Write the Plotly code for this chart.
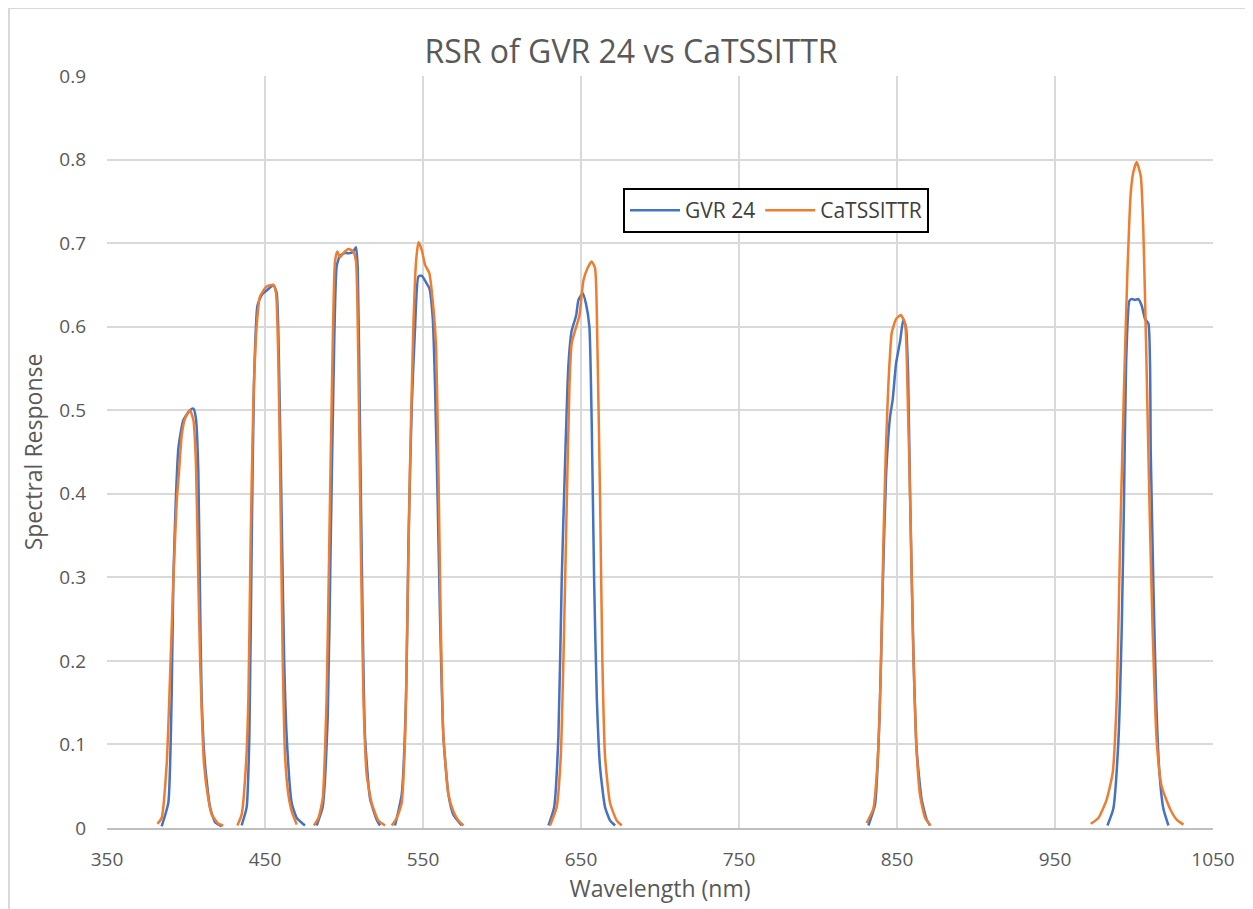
import plotly.graph_objects as go

# ---------------- data ----------------
# GVR 24 bands: wavelengths (nm) and responses
gvr_b1_x = [384.6, 388.8, 390.9, 392.0, 393.5, 395.2, 398.3, 402.5, 404.7, 406.3, 407.8, 408.9, 409.9, 412.0, 415.2, 418.4, 422.6]
gvr_b1_y = [0.002, 0.03, 0.156, 0.297, 0.39, 0.455, 0.488, 0.5, 0.502, 0.49, 0.427, 0.273, 0.156, 0.077, 0.025, 0.007, 0.002]
gvr_b2_x = [435.2, 438.4, 440.1, 441.6, 443.0, 445.2, 447.9, 452.1, 455.3, 457.4, 459.1, 460.6, 462.1, 463.7, 466.9, 470.1, 475.3]
gvr_b2_y = [0.003, 0.025, 0.11, 0.343, 0.53, 0.625, 0.638, 0.645, 0.65, 0.64, 0.53, 0.367, 0.203, 0.11, 0.03, 0.012, 0.003]
gvr_b3_x = [482.7, 486.5, 489.7, 491.6, 493.3, 495.4, 497.5, 500.6, 503.8, 505.9, 507.6, 508.7, 510.1, 511.8, 513.3, 516.5, 520.7, 522.8]
gvr_b3_y = [0.003, 0.025, 0.133, 0.343, 0.53, 0.673, 0.685, 0.688, 0.688, 0.69, 0.695, 0.67, 0.483, 0.25, 0.11, 0.035, 0.01, 0.003]
gvr_b4_x = [532.3, 536.5, 539.3, 540.8, 542.9, 545.0, 547.1, 549.2, 551.3, 554.0, 556.2, 557.6, 559.3, 560.8, 562.9, 566.1, 569.2, 574.5]
gvr_b4_y = [0.003, 0.04, 0.156, 0.343, 0.506, 0.6, 0.66, 0.661, 0.655, 0.646, 0.609, 0.53, 0.39, 0.25, 0.11, 0.04, 0.016, 0.003]
gvr_b5_x = [629.4, 633.0, 635.7, 637.8, 639.9, 642.0, 644.1, 646.9, 648.4, 651.1, 653.2, 655.3, 656.8, 658.3, 660.0, 662.1, 665.2, 668.4, 671.6]
gvr_b5_y = [0.003, 0.025, 0.11, 0.297, 0.436, 0.553, 0.595, 0.613, 0.632, 0.64, 0.627, 0.6, 0.483, 0.297, 0.156, 0.072, 0.025, 0.009, 0.003]
gvr_b6_x = [831.9, 836.1, 838.9, 841.0, 843.1, 845.6, 847.3, 849.4, 852.0, 854.0, 855.7, 857.0, 858.3, 860.4, 862.5, 865.6, 868.8, 870.9]
gvr_b6_y = [0.003, 0.028, 0.13, 0.29, 0.423, 0.492, 0.513, 0.556, 0.583, 0.609, 0.599, 0.545, 0.396, 0.209, 0.092, 0.034, 0.01, 0.003]
gvr_b7_x = [983.2, 986.9, 990.1, 992.2, 993.7, 995.0, 997.1, 998.6, 1000.7, 1002.8, 1004.9, 1007.0, 1009.1, 1010.6, 1012.3, 1014.0, 1016.1, 1018.6, 1021.8]
gvr_b7_y = [0.003, 0.023, 0.103, 0.236, 0.396, 0.556, 0.631, 0.633, 0.632, 0.633, 0.625, 0.609, 0.604, 0.449, 0.289, 0.156, 0.066, 0.023, 0.003]

# CaTSSITTR bands
cat_b1_x = [381.9, 384.6, 387.8, 390.3, 392.0, 394.1, 395.6, 397.3, 399.4, 402.5, 404.7, 406.3, 407.8, 408.9, 411.4, 414.1, 416.3, 420.5, 423.6]
cat_b1_y = [0.005, 0.012, 0.077, 0.203, 0.297, 0.39, 0.427, 0.47, 0.49, 0.5, 0.488, 0.436, 0.297, 0.203, 0.077, 0.035, 0.016, 0.005, 0.003]
cat_b2_x = [432.5, 435.2, 438.0, 439.5, 440.9, 442.6, 444.7, 446.8, 451.0, 455.3, 457.0, 458.5, 459.5, 461.2, 462.7, 464.8, 466.9, 470.1]
cat_b2_y = [0.003, 0.016, 0.077, 0.156, 0.343, 0.506, 0.6, 0.636, 0.648, 0.65, 0.64, 0.553, 0.436, 0.203, 0.086, 0.04, 0.02, 0.004]
cat_b3_x = [481.0, 483.8, 486.5, 489.0, 490.7, 492.4, 494.3, 495.8, 497.5, 499.6, 502.8, 505.9, 507.6, 509.1, 510.6, 512.3, 514.4, 517.5, 521.7, 526.0]
cat_b3_y = [0.003, 0.012, 0.035, 0.156, 0.343, 0.53, 0.678, 0.69, 0.683, 0.688, 0.693, 0.69, 0.678, 0.553, 0.343, 0.156, 0.063, 0.03, 0.009, 0.003]
cat_b4_x = [530.2, 533.4, 536.5, 538.7, 540.1, 541.8, 543.9, 545.6, 547.1, 549.2, 551.3, 554.0, 556.6, 558.3, 559.7, 561.2, 562.9, 566.1, 569.2, 572.4, 575.6]
cat_b4_y = [0.003, 0.012, 0.03, 0.11, 0.25, 0.436, 0.6, 0.678, 0.701, 0.692, 0.674, 0.664, 0.622, 0.576, 0.436, 0.25, 0.11, 0.04, 0.02, 0.009, 0.003]
cat_b5_x = [630.4, 634.6, 637.2, 638.9, 641.0, 642.7, 644.1, 646.2, 649.0, 651.5, 654.1, 656.8, 658.9, 660.4, 662.1, 663.5, 665.2, 668.4, 672.6, 675.8]
cat_b5_y = [0.003, 0.025, 0.086, 0.203, 0.39, 0.53, 0.58, 0.595, 0.613, 0.655, 0.67, 0.678, 0.67, 0.576, 0.39, 0.203, 0.086, 0.03, 0.009, 0.003]
cat_b6_x = [830.8, 835.0, 837.6, 839.7, 841.4, 842.9, 844.5, 846.7, 849.4, 852.4, 855.1, 856.6, 858.3, 860.0, 862.1, 864.6, 867.8, 871.3]
cat_b6_y = [0.006, 0.023, 0.076, 0.183, 0.343, 0.449, 0.529, 0.593, 0.609, 0.614, 0.604, 0.529, 0.396, 0.236, 0.103, 0.039, 0.012, 0.003]
cat_b7_x = [972.6, 977.5, 982.7, 986.5, 989.1, 991.2, 993.7, 995.8, 997.9, 999.6, 1001.7, 1004.3, 1005.9, 1007.6, 1009.7, 1011.8, 1014.4, 1017.5, 1022.8, 1027.0, 1031.3]
cat_b7_y = [0.005, 0.012, 0.034, 0.066, 0.156, 0.343, 0.529, 0.663, 0.759, 0.785, 0.797, 0.78, 0.716, 0.583, 0.396, 0.236, 0.103, 0.05, 0.023, 0.01, 0.004]

x_ticks = [350, 450, 550, 650, 750, 850, 950, 1050]
y_ticks = [0, 0.1, 0.2, 0.3, 0.4, 0.5, 0.6, 0.7, 0.8, 0.9]
y_tick_labels = ["0", "0.1", "0.2", "0.3", "0.4", "0.5", "0.6", "0.7", "0.8", "0.9"]


def join_bands(bands):
    xs, ys = [], []
    for bx, by in bands:
        xs += bx + [None]
        ys += by + [None]
    return xs, ys


gvr_x, gvr_y = join_bands([(gvr_b1_x, gvr_b1_y), (gvr_b2_x, gvr_b2_y), (gvr_b3_x, gvr_b3_y),
                           (gvr_b4_x, gvr_b4_y), (gvr_b5_x, gvr_b5_y), (gvr_b6_x, gvr_b6_y),
                           (gvr_b7_x, gvr_b7_y)])
cat_x, cat_y = join_bands([(cat_b1_x, cat_b1_y), (cat_b2_x, cat_b2_y), (cat_b3_x, cat_b3_y),
                           (cat_b4_x, cat_b4_y), (cat_b5_x, cat_b5_y), (cat_b6_x, cat_b6_y),
                           (cat_b7_x, cat_b7_y)])

FONT = "Open Sans"
GREY = "#595959"

# figure sits at (8, 8) in the page because of the default body margin
W, H = 1245, 901
L, R, T, B = 99, 40, 68, 81
PW, PH = W - L - R, H - T - B

fig = go.Figure()
fig.add_trace(go.Scatter(x=gvr_x, y=gvr_y, mode="lines", name="GVR 24",
                         line=dict(color="#4472C4", width=2.5, shape="spline", smoothing=0.5),
                         connectgaps=False))
fig.add_trace(go.Scatter(x=cat_x, y=cat_y, mode="lines", name="CaTSSITTR",
                         line=dict(color="#ED7D31", width=2.5, shape="spline", smoothing=0.5),
                         connectgaps=False))

fig.update_layout(
    width=W, height=H,
    margin=dict(l=L, r=R, t=T, b=B),
    paper_bgcolor="white", plot_bgcolor="white",
    font=dict(family=FONT, color=GREY, size=19),
    title=dict(text="RSR of GVR 24 vs CaTSSITTR", x=623 / W, xanchor="center",
               y=1 - 44 / H, yanchor="middle",
               font=dict(family=FONT, size=32, color=GREY)),
    showlegend=True,
    legend=dict(orientation="h", x=(615 - L) / PW, xanchor="left",
                y=(820 - 180) / PH, yanchor="top",
                bordercolor="black", borderwidth=2, bgcolor="white",
                font=dict(family=FONT, size=21, color="#404040"),
                itemwidth=50, tracegroupgap=0),
    xaxis=dict(range=[350, 1050], tickmode="array", tickvals=x_ticks,
               ticktext=[str(v) for v in x_ticks],
               showgrid=True, gridcolor="#D9D9D9", gridwidth=2,
               showline=True, linecolor="#BFBFBF", linewidth=2,
               zeroline=False, ticks="", ticklabelstandoff=13,
               title=dict(text="Wavelength (nm)", font=dict(size=23, color=GREY), standoff=0),
               mirror=False),
    yaxis=dict(range=[0, 0.9], tickmode="array", tickvals=y_ticks, ticktext=y_tick_labels,
               showgrid=True, gridcolor="#D9D9D9", gridwidth=2,
               showline=False, zeroline=False, ticks="", ticklabelstandoff=20,
               title=dict(text="Spectral Response", font=dict(size=23, color=GREY), standoff=10)),
)

# outer chart-area border (left and top edges visible in the reference)
bx = (1 - L) / PW
by = (T + PH - 0) / PH
fig.add_shape(type="line", xref="paper", yref="paper",
              x0=bx, x1=bx, y0=-B / PH, y1=by,
              line=dict(color="#D9D9D9", width=2))
fig.add_shape(type="line", xref="paper", yref="paper",
              x0=bx, x1=(W - L) / PW, y0=by, y1=by,
              line=dict(color="#D9D9D9", width=2))

fig.write_html("out.html")
